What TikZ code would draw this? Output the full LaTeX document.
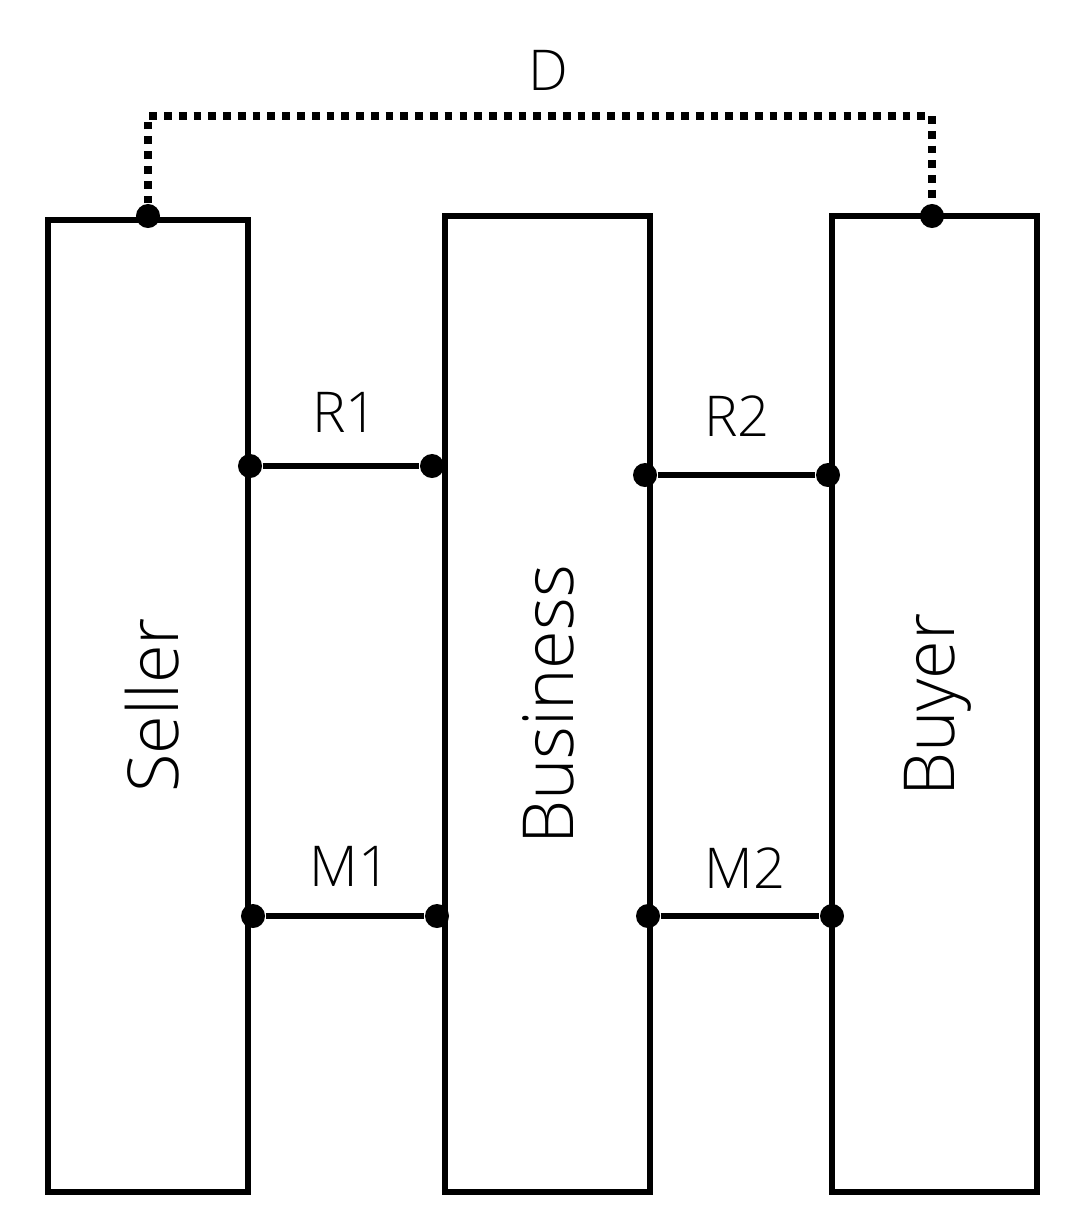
\documentclass[tikz,border=0pt]{standalone}
\usepackage{fontspec}
\setmainfont{Open Sans}[UprightFont=* Light]
\begin{document}
\begin{tikzpicture}[x=0.01cm,y=-0.01cm,
  box/.style={draw,line width=1.7pt,inner sep=0pt,rectangle},
  dot/.style={circle,fill,inner sep=0pt,minimum size=0.24cm},
  lbl/.style={font=\fontsize{16}{19}\selectfont},
  big/.style={font=\fontsize{20}{24}\selectfont,rotate=90},
  conn/.style={line width=1.7pt}]
\useasboundingbox (0,0) rectangle (1090,1230);
\node[box,minimum width=2cm,minimum height=9.72cm] (seller) at (148,706) {};
\node[box,minimum width=2.05cm,minimum height=9.76cm] (business) at (547.5,704) {};
\node[box,minimum width=2.05cm,minimum height=9.76cm] (buyer) at (934.5,704) {};
\node[big] at (152,705) {Seller};
\node[big] at (548,705) {Business};
\node[big] at (938,705) {Buyer};
\node[dot] (s0) at (148,216) {};
\node[dot] (b0) at (932,216) {};
\coordinate (t1) at (148,116);
\coordinate (t2) at (932,116);
\draw[line width=2.2pt,dotted] (s0) -- (t1) -- (t2) -- (b0);
\node[lbl] (D) at (548,70) {D};
\node[dot] (r1a) at (250,466) {};
\node[dot] (r1b) at (432,466) {};
\node[dot] (r2a) at (645,475) {};
\node[dot] (r2b) at (828,475) {};
\node[dot] (m1a) at (253,916) {};
\node[dot] (m1b) at (437,916) {};
\node[dot] (m2a) at (648,916) {};
\node[dot] (m2b) at (832,916) {};
\draw[conn] (r1a) -- (r1b);
\draw[conn] (r2a) -- (r2b);
\draw[conn] (m1a) -- (m1b);
\draw[conn] (m2a) -- (m2b);
\node[lbl] at (345,412) {R1};
\node[lbl] at (737,416) {R2};
\node[lbl] at (350,866) {M1};
\node[lbl] at (745,868) {M2};
\end{tikzpicture}
\end{document}
